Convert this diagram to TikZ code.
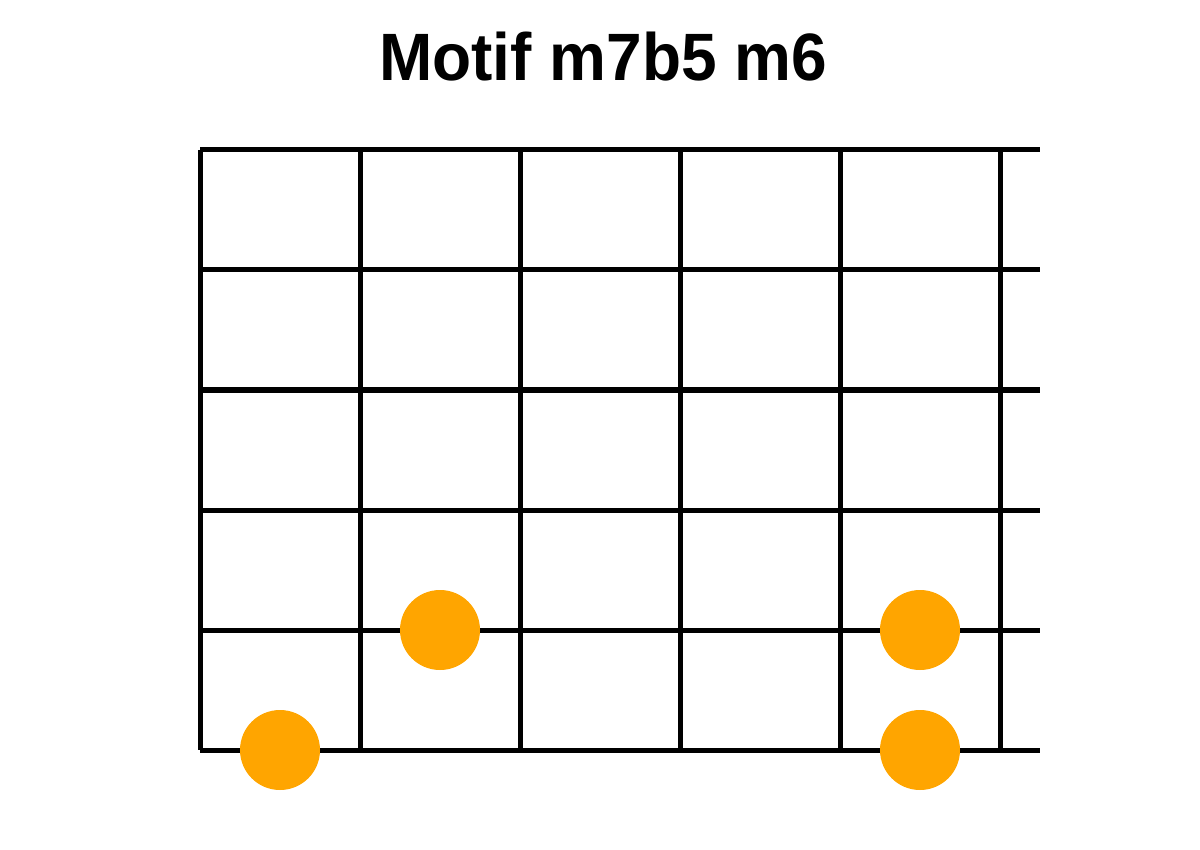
\documentclass[tikz,border=0pt]{standalone}
\usepackage{fontspec}
\usepackage{graphicx}
\setmainfont{Liberation Sans}
\definecolor{dotorange}{HTML}{FFA500}
\tikzset{
  gridline/.style={line width=2.5pt, black},
  notedot/.style={circle, fill=dotorange, draw=none, minimum size=40pt, inner sep=0pt},
  titletext/.style={font=\fontsize{33.5}{40}\selectfont\bfseries, anchor=base, inner sep=0pt}
}
\begin{document}
\begin{tikzpicture}[x=0.5pt,y=-0.5pt]
\useasboundingbox (0,0) rectangle (1200,850);
\node[titletext] (title) at (603,81) {\scalebox{0.955}[1]{Motif m7b5 m6}};
% horizontal strings
\foreach \y in {150,270,390,510,630,750} {
  \draw[gridline] (200,\y) -- (1040,\y);
}
% vertical frets
\foreach \x in {200,360,520,680,840,1000} {
  \draw[gridline] (\x,150) -- (\x,750);
}
\node[notedot] (d1) at (440,630) {};
\node[notedot] (d2) at (920,630) {};
\node[notedot] (d3) at (280,750) {};
\node[notedot] (d4) at (920,750) {};
\end{tikzpicture}
\end{document}
